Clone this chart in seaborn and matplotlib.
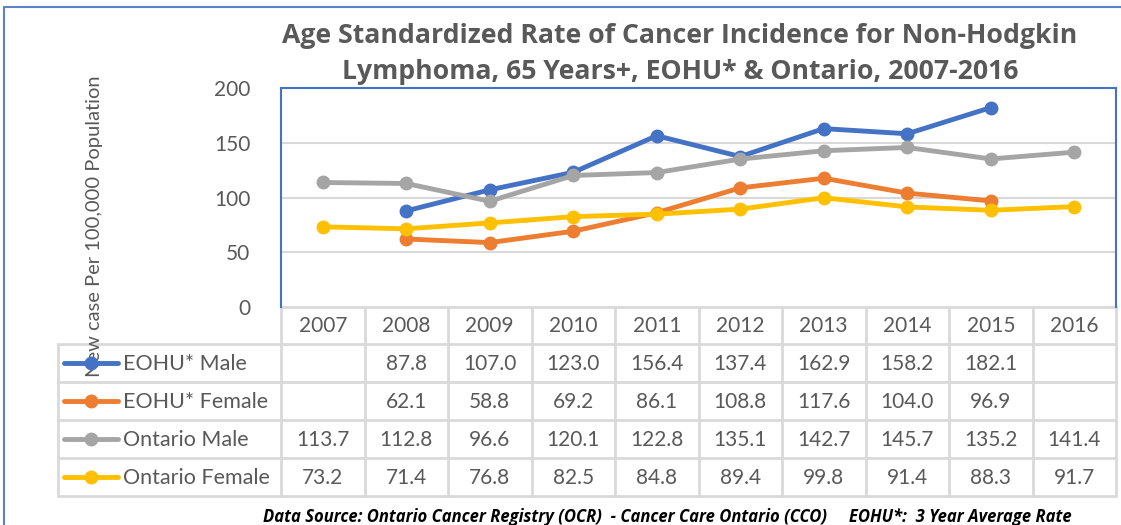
import matplotlib
matplotlib.use("Agg")
import matplotlib.pyplot as plt
import seaborn as sns
import numpy as np
import pandas as pd

years = ["2007", "2008", "2009", "2010", "2011", "2012", "2013", "2014", "2015", "2016"]
series_names = ["EOHU* Male", "EOHU* Female", "Ontario Male", "Ontario Female"]
eohu_male = [np.nan, 87.8, 107.0, 123.0, 156.4, 137.4, 162.9, 158.2, 182.1, np.nan]
eohu_female = [np.nan, 62.1, 58.8, 69.2, 86.1, 108.8, 117.6, 104.0, 96.9, np.nan]
ontario_male = [113.7, 112.8, 96.6, 120.1, 122.8, 135.1, 142.7, 145.7, 135.2, 141.4]
ontario_female = [73.2, 71.4, 76.8, 82.5, 84.8, 89.4, 99.8, 91.4, 88.3, 91.7]
colors = ["#4472C4", "#ED7D31", "#A5A5A5", "#FFC000"]
title_lines = ["Age Standardized Rate of Cancer Incidence for Non-Hodgkin",
               "Lymphoma, 65 Years+, EOHU* & Ontario, 2007-2016"]
ylabel = "New case Per 100,000 Population"
footnote = "Data Source: Ontario Cancer Registry (OCR)  - Cancer Care Ontario (CCO)     EOHU*:  3 Year Average Rate"
y_ticks = [0, 50, 100, 150, 200]

values = [eohu_male, eohu_female, ontario_male, ontario_female]

sns.set_theme(style="white")
plt.rcParams["font.family"] = ["Lato", "DejaVu Sans"]

W, H = 1121, 525
fig = plt.figure(figsize=(W / 100, H / 100), dpi=100)
fig.patch.set_facecolor("white")

TXT = "#595959"
GRID = "#D9D9D9"
BLUE = "#4472C4"

# overlay axes in pixel coordinates (origin top-left)
ov = fig.add_axes([0, 0, 1, 1])
ov.set_xlim(0, W)
ov.set_ylim(H, 0)
ov.axis("off")

# plot area
L, R, T, B = 281, 1116, 88, 307
ax = fig.add_axes([L / W, 1 - B / H, (R - L) / W, (B - T) / H])
ax.patch.set_alpha(0)

df = pd.DataFrame({
    "idx": np.tile(np.arange(len(years)), len(series_names)),
    "series": np.repeat(series_names, len(years)),
    "value": np.concatenate(values),
})
df = df.dropna()
sns.lineplot(data=df, x="idx", y="value", hue="series", hue_order=series_names,
             palette=colors, marker="o", markersize=10, markeredgewidth=0,
             linewidth=3.5, legend=False, sort=False, ax=ax)

ax.set_xlim(-0.5, len(years) - 0.5)
ax.set_ylim(0, 200)
ax.set_yticks(y_ticks)
ax.set_yticklabels([str(t) for t in y_ticks], fontsize=15, color=TXT)
ax.tick_params(axis="y", length=0, pad=22)
ax.set_xticks([])
ax.set_xlabel("")
ax.set_ylabel("")
for t in y_ticks[1:-1]:
    ax.axhline(t, color=GRID, lw=1.5, zorder=0)
for s in ["left", "top", "right"]:
    ax.spines[s].set_color(BLUE)
    ax.spines[s].set_linewidth(1.5)
ax.spines["bottom"].set_visible(False)

# outer chart border (left and top visible)
ov.plot([4, 4], [7, H], color="#5B84C9", lw=1.5)
ov.plot([4, W], [7, 7], color="#5B84C9", lw=1.5)

# title (two lines)
for yy, line in zip([36, 72], title_lines):
    ov.text(680, yy, line, ha="center", va="center", fontsize=19.2, fontweight="bold",
            family=["Open Sans", "DejaVu Sans"], color=TXT)

# y label
ov.text(95, 226, ylabel, ha="center", va="center", rotation=90, fontsize=14.5, color=TXT)

# data table
colw = (R - L) / len(years)
row_edges = [307, 344, 382, 420, 458, 496]
leg_left = 58
ov.plot([L, R], [row_edges[0], row_edges[0]], color=GRID, lw=2, zorder=1)
for y in row_edges[1:]:
    ov.plot([leg_left, R], [y, y], color=GRID, lw=2, zorder=1)
for k in range(len(years) + 1):
    x = L + k * colw
    ov.plot([x, x], [row_edges[0], row_edges[-1]], color=GRID, lw=2, zorder=1)
ov.plot([leg_left, leg_left], [row_edges[1], row_edges[-1]], color=GRID, lw=2, zorder=1)

for k, yr in enumerate(years):
    ov.text(L + (k + 0.5) * colw, (row_edges[0] + row_edges[1]) / 2 + 1, yr,
            ha="center", va="center", fontsize=15, color=TXT)
for i, (name, vals, c) in enumerate(zip(series_names, values, colors)):
    yc = (row_edges[i + 1] + row_edges[i + 2]) / 2
    ov.plot([64, 118], [yc, yc], color=c, lw=3.5, solid_capstyle="round", zorder=3)
    ov.plot([91], [yc], marker="o", color=c, markersize=10, markeredgewidth=0, zorder=3)
    ov.text(123, yc + 1, name, ha="left", va="center", fontsize=15.5, color=TXT)
    for k, v in enumerate(vals):
        if not np.isnan(v):
            ov.text(L + (k + 0.5) * colw, yc + 1, f"{v:.1f}", ha="center", va="center",
                    fontsize=15, color=TXT)

# footnote
ov.text(667, 517, footnote, ha="center", va="center", fontsize=12,
        fontweight="bold", fontstyle="italic", family=["Open Sans", "DejaVu Sans"],
        color="black")

fig.savefig("out.png", dpi=100)
